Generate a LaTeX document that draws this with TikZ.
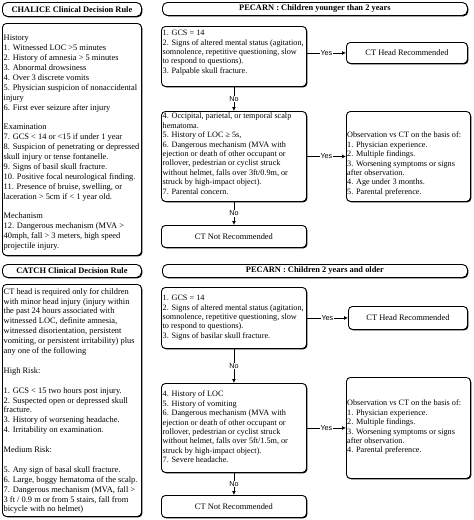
\documentclass[tikz,border=0pt]{standalone}
\usepackage{fontspec}
\setmainfont{Liberation Serif}
\newfontfamily\lsans{Liberation Sans}
\usetikzlibrary{arrows.meta,shadows}
\begin{document}
\begin{tikzpicture}[x=1pt,y=-1pt,
  box/.style={draw, line width=0.9pt, rounded corners=4pt, fill=white, anchor=north west, inner sep=0pt,
     drop shadow={shadow xshift=0.9pt, shadow yshift=-0.9pt, fill=black, opacity=1},
     font=\fontsize{8.4}{9.6}\selectfont},
  ttl/.style={box, rounded corners=5pt, font=\fontsize{8.4}{9.6}\selectfont\bfseries},
  txtL/.style={anchor=north west, align=left, inner sep=0pt, font=\fontsize{8.4}{9.9}\selectfont},
  txtR/.style={anchor=north west, align=left, inner sep=0pt, font=\fontsize{8.2}{9.4}\selectfont},
  arr/.style={line width=0.9pt, -{Latex[length=4pt,width=4pt]}},
  lbl/.style={fill=white, inner sep=0.8pt, font=\lsans\fontsize{7.2}{8}\selectfont},
]
\fill[white] (0,0) rectangle (474,520);
\useasboundingbox (0,0) rectangle (474,520);

% ---------- left column ----------
\node[ttl, minimum width=139pt, minimum height=14pt] (chT) at (2,2) {CHALICE Clinical Decision Rule};
\node[box, minimum width=139pt, minimum height=232pt] (chB) at (2,23) {};
\node[txtL] (chX) at (3.5,35) {History\\
1. Witnessed LOC >5 minutes\\
2. History of amnesia > 5 minutes\\
3. Abnormal drowsiness\\
4. Over 3 discrete vomits\\
5. Physician suspicion of nonaccidental\\
injury\\
6. First ever seizure after injury\\[9.9pt]
Examination\\
7. GCS < 14 or <15 if under 1 year\\
8. Suspicion of penetrating or depressed\\
skull injury or tense fontanelle.\\
9. Signs of basil skull fracture.\\
10. Positive focal neurological finding.\\
11. Presence of bruise, swelling, or\\
laceration > 5cm if < 1 year old.\\[9.9pt]
Mechanism\\
12. Dangerous mechanism (MVA >\\
40mph, fall > 3 meters, high speed\\
projectile injury.};

\node[ttl, minimum width=139pt, minimum height=13pt] (caT) at (2,264) {CATCH Clinical Decision Rule};
\node[box, minimum width=139pt, minimum height=232pt] (caB) at (2,284) {};
\node[txtL] (caX) at (3.5,288) {CT head is required only for children\\
with minor head injury (injury within\\
the past 24 hours associated with\\
witnessed LOC, definite amnesia,\\
witnessed disorientation, persistent\\
vomiting, or persistent irritability) plus\\
any one of the following\\[9.9pt]
High Risk:\\[9.9pt]
1. GCS < 15 two hours post injury.\\
2. Suspected open or depressed skull\\
fracture.\\
3. History of worsening headache.\\
4. Irritability on examination.\\[9.9pt]
Medium Risk:\\[9.9pt]
5. Any sign of basal skull fracture.\\
6. Large, boggy hematoma of the scalp.\\
7. Dangerous mechanism (MVA, fall >\\
3 ft / 0.9 m or from 5 stairs, fall from\\
bicycle with no helmet)};

% ---------- PECARN < 2 years ----------
\node[ttl, minimum width=305pt, minimum height=13pt] (p1T) at (162,2) {PECARN : Children younger than 2 years};
\node[box, minimum width=145pt, minimum height=60pt] (p1a) at (161,26) {};
\node[txtR] (p1aX) at (162.5,30) {1. GCS = 14\\
2. Signs of altered mental status (agitation,\\
somnolence, repetitive questioning, slow\\
to respond to questions).\\
3. Palpable skull fracture.};
\node[box, minimum width=121pt, minimum height=21pt] (p1y) at (346,42) {CT Head Recommended};
\node[box, minimum width=145pt, minimum height=90pt] (p1b) at (161,111) {};
\node[txtR] (p1bX) at (162.5,113) {4. Occipital, parietal, or temporal scalp\\
hematoma.\\
5. History of LOC ≥ 5s,\\
6. Dangerous mechanism (MVA with\\
ejection or death of other occupant or\\
rollover, pedestrian or cyclist struck\\
without helmet, falls over 3ft/0.9m, or\\
struck by high-impact object).\\
7. Parental concern.};
\node[box, minimum width=124pt, minimum height=90pt] (p1o) at (346,111) {};
\node[txtR] (p1oX) at (347,132) {Observation vs CT on the basis of:\\
1. Physician experience.\\
2. Multiple findings.\\
3. Worsening symptoms or signs\\
after observation.\\
4. Age under 3 months.\\
5. Parental preference.};
\node[box, minimum width=145pt, minimum height=22pt] (p1n) at (161,225) {CT Not Recommended};

% ---------- PECARN >= 2 years ----------
\node[ttl, minimum width=305pt, minimum height=13pt] (p2T) at (162,264) {PECARN : Children 2 years and older};
\node[box, minimum width=145pt, minimum height=61pt] (p2a) at (161,287) {};
\node[txtR] (p2aX) at (162.5,295) {1. GCS = 14\\
2. Signs of altered mental status (agitation,\\
somnolence, repetitive questioning, slow\\
to respond to questions).\\
3. Signs of basilar skull fracture.};
\node[box, minimum width=119pt, minimum height=23pt] (p2y) at (348,306) {CT Head Recommended};
\node[box, minimum width=145pt, minimum height=89pt] (p2b) at (161,383) {};
\node[txtR] (p2bX) at (162.5,391) {4. History of LOC\\
5. History of vomiting\\
6. Dangerous mechanism (MVA with\\
ejection or death of other occupant or\\
rollover, pedestrian or cyclist struck\\
without helmet, falls over 5ft/1.5m, or\\
struck by high-impact object).\\
7. Severe headache.};
\node[box, minimum width=124pt, minimum height=101pt] (p2o) at (346,377) {};
\node[txtR] (p2oX) at (347,400) {Observation vs CT on the basis of:\\
1. Physician experience.\\
2. Multiple findings.\\
3. Worsening symptoms or signs\\
after observation.\\
4. Parental preference.};
\node[box, minimum width=145pt, minimum height=22pt] (p2n) at (161,495) {CT Not Recommended};

% ---------- connectors ----------
\draw[arr] (p1a.east |- p1y.west) -- node[lbl]{Yes} (p1y.west);
\draw[arr] (p1a.south) -- node[lbl]{No} (p1b.north);
\draw[arr] (p1b.east |- p1o.west) -- node[lbl]{Yes} (p1o.west);
\draw[arr] (p1b.south) -- node[lbl]{No} (p1n.north);
\draw[arr] (p2a.east |- p2y.west) -- node[lbl]{Yes} (p2y.west);
\draw[arr] (p2a.south) -- node[lbl]{No} (p2b.north);
\draw[arr] (p2b.east |- p2o.west) -- node[lbl]{Yes} (p2o.west);
\draw[arr] (p2b.south) -- node[lbl]{No} (p2n.north);
\end{tikzpicture}
\end{document}
